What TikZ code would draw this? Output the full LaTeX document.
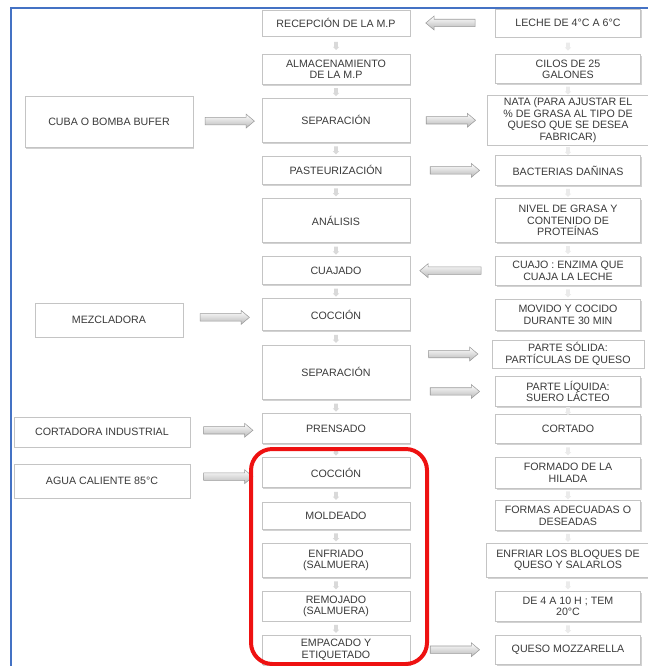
\documentclass[tikz,border=0pt]{standalone}
\usepackage{fontspec}
\setmainfont{Liberation Sans}
\usetikzlibrary{positioning, shapes.arrows, shadows}
\definecolor{FrameBlue}{HTML}{4472C4}
\definecolor{BoxLine}{HTML}{C4C4C4}
\definecolor{ArrowFill}{HTML}{B8B8B8}
\definecolor{ArrowLine}{HTML}{9A9A9A}
\definecolor{MarkRed}{HTML}{EE1111}
\definecolor{TextInk}{HTML}{3A3A3A}

\begin{document}
\begin{tikzpicture}[
  x=0.75pt, y=-0.75pt,
  font=\fontsize{8}{8.6}\selectfont,
  node distance=10pt,
  box/.style={rectangle, draw=BoxLine, line width=0.6pt, fill=white, text=TextInk,
              align=center, inner sep=1pt, minimum width=111pt,
              drop shadow={shadow xshift=0.9pt, shadow yshift=-1.1pt, fill=black!35, opacity=0.5}},
  proc/.style={box},
  note/.style={box, minimum width=109pt},
  equip/.style={box},
  blk/.style={single arrow, draw=ArrowLine, line width=0.4pt, top color=white,
              bottom color=ArrowFill, minimum height=37pt, inner sep=2.6pt,
              single arrow head extend=2.4pt, single arrow tip angle=80},
  blkl/.style={blk, shape border rotate=180},
  tick/.style={single arrow, shape border rotate=270, fill=black!15, minimum height=6pt,
               inner sep=1.2pt, single arrow head extend=1pt},
  rtick/.style={tick, fill=black!8},
  frame/.style={draw=FrameBlue, line width=1.6pt},
  hilite/.style={draw=MarkRed, line width=3pt, rounded corners=16pt},
]
\useasboundingbox (0,0) rectangle (648,666);

% --- outer frame ---
\draw[frame] (11,666) -- (11,8) -- (648,8);

% --- process spine ---
\node[proc, minimum height=19.5pt] (recep) at (336,23) {RECEPCIÓN DE LA M.P};
\node[proc, minimum height=22.5pt, below=13pt of recep] (alma) {ALMACENAMIENTO\\DE LA M.P};
\node[proc, minimum height=33pt, below=of alma] (sep1) {SEPARACIÓN};
\node[proc, minimum height=21pt, below=of sep1] (paste) {PASTEURIZACIÓN};
\node[proc, minimum height=33pt, below=of paste] (anal) {ANÁLISIS};
\node[proc, minimum height=21pt, below=of anal] (cuaj) {CUAJADO};
\node[proc, minimum height=24pt, below=of cuaj] (cocc1) {COCCIÓN};
\node[proc, minimum height=41pt, below=of cocc1] (sep2) {SEPARACIÓN};
\node[proc, minimum height=22.5pt, below=of sep2] (prens) {PRENSADO};
\node[proc, minimum height=22.5pt, below=of prens] (cocc2) {COCCIÓN};
\node[proc, minimum height=20.5pt, below=of cocc2] (mold) {MOLDEADO};
\node[proc, minimum height=25.5pt, below=of mold] (enfr) {ENFRIADO\\(SALMUERA)};
\node[proc, minimum height=22pt, below=of enfr] (remoj) {REMOJADO\\(SALMUERA)};
\node[proc, minimum height=22pt, below=of remoj] (empac) {EMPACADO Y\\ETIQUETADO};

% --- right column: inputs and results ---
\coordinate (colR) at (568,0);
\node[note, minimum height=21pt] (leche) at (colR |- recep) {LECHE DE 4°C A 6°C};
\node[note, minimum height=22pt] (silos) at (colR |- alma) {CILOS DE 25\\GALONES};
\node[note, minimum width=121pt, minimum height=37pt] (nata) at (colR |- sep1)
  {NATA (PARA AJUSTAR EL\\\% DE GRASA AL TIPO DE\\QUESO QUE SE DESEA\\FABRICAR)};
\node[note, minimum height=22.5pt] (bact) at (colR |- paste) {BACTERIAS DAÑINAS};
\node[note, minimum height=33pt] (nivel) at (colR |- anal) {NIVEL DE GRASA Y\\CONTENIDO DE\\PROTEÍNAS};
\node[note, minimum height=22pt] (cuajo) at (colR |- cuaj) {CUAJO : ENZIMA QUE\\CUAJA LA LECHE};
\node[note, minimum height=23pt] (movido) at (colR |- cocc1) {MOVIDO Y COCIDO\\DURANTE 30 MIN};
\node[note, minimum width=114pt, minimum height=21pt] (solida) at (568,354) {PARTE SÓLIDA:\\PARTÍCULAS DE QUESO};
\node[note, minimum height=22pt, below=6pt of solida] (liquida) {PARTE LÍQUIDA:\\SUERO LÁCTEO};
\node[note, minimum height=22pt] (cort) at (colR |- prens) {CORTADO};
\node[note, minimum height=23pt] (formado) at (colR |- cocc2) {FORMADO DE LA\\HILADA};
\node[note, minimum height=22.5pt] (formas) at (colR |- mold) {FORMAS ADECUADAS O\\DESEADAS};
\node[note, minimum width=122pt, minimum height=26pt] (enfriar) at (colR |- enfr) {ENFRIAR LOS BLOQUES DE\\QUESO Y SALARLOS};
\node[note, minimum height=22.5pt] (tiempo) at (colR |- remoj) {DE 4 A 10 H ; TEM\\20°C};
\node[note, minimum height=21.5pt] (queso) at (colR |- empac) {QUESO MOZZARELLA};

% --- left column: equipment ---
\node[equip, minimum width=126pt, minimum height=38pt] (cuba) at (109,122) {CUBA O BOMBA BUFER};
\node[equip, minimum width=111pt, minimum height=25.5pt] (mezcla) at (109,320) {MEZCLADORA};
\node[equip, minimum width=132pt, minimum height=22.5pt] (cortadora) at (102,432) {CORTADORA INDUSTRIAL};
\node[equip, minimum width=132pt, minimum height=25.5pt] (agua) at (102,481) {AGUA CALIENTE 85°C};

% --- block arrows ---
\path (cuba) -- node[blk] {} (sep1);
\path (sep1) -- node[blk] {} (nata);
\path (paste) -- node[blk] {} (bact);
\path (leche) -- node[blkl] {} (recep);
\path (cuajo) -- node[blkl, minimum height=46pt] {} (cuaj);
\path (mezcla) -- node[blk] {} (cocc1);
\path (sep2.east |- solida) -- node[blk] {} (solida.west);
\path (sep2.east |- liquida) -- node[blk] {} (liquida.west);
\path (cortadora) -- node[blk] {} (prens);
\path (agua) -- node[blk] {} (cocc2);
\path (empac) -- node[blk] {} (queso);

% --- small down arrows ---
\foreach \a/\b in {recep/alma, alma/sep1, sep1/paste, paste/anal, anal/cuaj, cuaj/cocc1,
                   cocc1/sep2, sep2/prens, prens/cocc2, cocc2/mold, mold/enfr, enfr/remoj, remoj/empac}
  \path (\a) -- node[tick] {} (\b);
\foreach \a/\b in {leche/silos, silos/nata, nata/bact, bact/nivel, nivel/cuajo, cuajo/movido,
                   liquida/cort, cort/formado, formado/formas, formas/enfriar, enfriar/tiempo, tiempo/queso}
  \path (\a) -- node[rtick] {} (\b);

% --- highlight ---
\draw[hilite] (251,449) rectangle (427,664);

\end{tikzpicture}
\end{document}
